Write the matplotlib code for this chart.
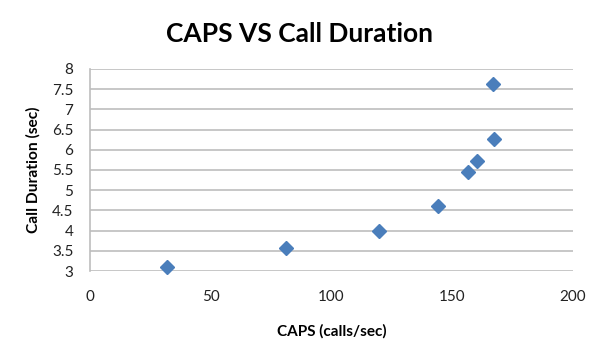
import matplotlib
matplotlib.use("Agg")
import matplotlib.pyplot as plt

caps = [31.8, 81.2, 119.7, 144.2, 156.7, 160.1, 167.3, 167.0]
duration = [3.11, 3.57, 4.0, 4.62, 5.44, 5.71, 6.27, 7.62]
x_ticks = [0, 50, 100, 150, 200]
y_ticks = [3, 3.5, 4, 4.5, 5, 5.5, 6, 6.5, 7, 7.5, 8]

plt.rcParams['font.family'] = ['Lato', 'DejaVu Sans']

fig = plt.figure(figsize=(6, 3.59), dpi=100)
ax = fig.add_axes([0.15, 0.245, 0.805, 0.563])

ax.plot(caps, duration, linestyle='none', marker='D', markersize=7,
        color='#4a7ebb', zorder=3, clip_on=False)

ax.set_xlim(0, 200)
ax.set_ylim(3, 8)
ax.set_xticks(x_ticks)
ax.set_yticks(y_ticks)
ax.set_yticklabels([f'{v:g}' for v in y_ticks])
ax.tick_params(length=0, labelsize=11, colors='#222222')
ax.tick_params(axis='y', pad=12)
ax.tick_params(axis='x', pad=14)

ax.grid(axis='y', color='#bdbdbd', linewidth=1.2)
for s in ['top', 'right', 'bottom']:
    ax.spines[s].set_visible(False)
ax.spines['left'].set_color('#bdbdbd')
ax.spines['left'].set_linewidth(1.2)

ax.set_xlabel('CAPS (calls/sec)', fontsize=11, fontweight='bold', labelpad=14)
ax.set_ylabel('Call Duration (sec)', fontsize=11.2, fontweight='bold', labelpad=8)
fig.suptitle('CAPS VS Call Duration', fontsize=19, fontweight='bold', x=0.5, y=0.94)

fig.savefig('out.png', dpi=100)
